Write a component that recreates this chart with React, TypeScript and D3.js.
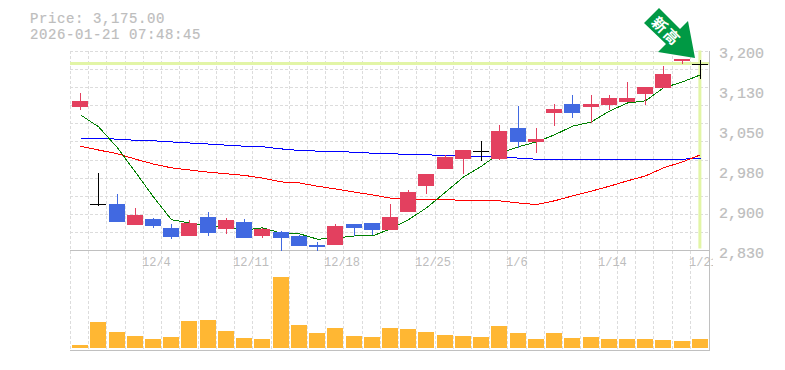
import React from "react";
import * as d3 from "d3";

const W = 785, H = 370;
const dates = ["12/4", "12/11", "12/18", "12/25", "1/6", "1/14", "1/21"];
const dateIdx = [4, 9, 14, 19, 24, 29, 34];
const priceTicks = ["3,200", "3,130", "3,050", "2,980", "2,900", "2,830"];

const opens = [3094.5,2915,2915,2876,2887.4,2870.7,2856,2891,2868.9,2881.8,2856,2863,2856,2839,2839,2878,2880,2867,2900,2948.4,2979.9,2998.4,3013.7,2998.4,3055.7,3029.8,3083.5,3100,3094.5,3098.3,3103.8,3118.6,3129.7,3179.7,3175];
const closes = [3105.6,2915,2881.8,2894.8,2874.4,2854,2880,2861.5,2885.5,2852,2868.9,2852,2837.4,2835.6,2874.4,2870.7,2867,2891,2937,2970.6,3001.5,3015,3013.7,3050,3029.8,3035,3090.9,3083.5,3100,3111,3111,3131.5,3155.6,3183.4,3175];
const highs = [3120.5,2972.5,2933.6,2908,2889,2878,2885.5,2900,2889,2887.4,2870.7,2865,2857.7,2844.8,2878,2878,2880,2915,2941,2970.6,3005.7,3015,3031.6,3061,3096.4,3055.7,3100,3116.8,3116.8,3116.8,3140.8,3131.5,3170.4,3183.4,3181.5];
const lows = [3089,2912,2881.8,2876,2870.7,2850.4,2856,2856,2859.6,2852,2852,2828.7,2837.4,2828.7,2839,2856,2857.7,2867,2900,2933.6,2979.9,2970.6,2994.6,2996.5,3018.7,3009.5,3059.4,3074,3065,3089,3103.8,3098.3,3129.7,3174,3146.4];
const ma5 = [3080,3058,3019,2974,2928,2886,2880,2874,2873,2867,2871,2861,2860,2850,2852,2856,2856,2869,2886,2908,2937,2965,2985,3009,3021,3030,3043,3059,3067,3087,3102,3106,3130,3141,3154];
const ma25 = [3022,3015,3008,2998,2989,2982,2978,2974,2971,2968,2963,2956,2954,2948,2943,2937,2932,2926,2924,2924,2923,2922,2922,2921,2917,2914,2921,2930,2939,2948,2958,2967,2982,2993,3006];
const ma75 = [3037,3037,3035,3033,3032,3030,3028,3026,3024,3022,3021,3017,3014,3013,3012,3011,3009,3008,3007,3006,3005,3004,3003,3002,3000,2998,2998,2998,2998,2998,2998,2998,2998,2998,3000];
const volumes = [300,2600,1600,1200,900,1100,2700,2800,1700,1000,900,7100,2300,1500,2000,1200,1100,2000,1900,1600,1300,1200,1100,2200,1500,900,1500,1000,1100,900,900,900,800,700,900];
const lastPrice = 3175;
const priceLabel = "Price: 3,175.00";
const timeLabel = "2026-01-21 07:48:45";
const badge = "新高";

const L = 71, R = 709, PT = 50.5, PB = 250.5, VB = 350.5, VBase = 348;
const x = d3.scaleBand<number>().domain(d3.range(opens.length)).range([L, R]);
const cx = (i: number) => (x(i) as number) + x.bandwidth() / 2;
const y = d3.scaleLinear().domain([2830, 3200]).range([PB - 0.5, PT - 0.5]);
const v = d3.scaleLinear().domain([0, 7100]).range([VBase, VBase - 71]);
const line = (s: number[]) =>
  d3.line<number>().x((_, i) => Math.round(cx(i)) + 0.5).y((d) => y(d)).curve(d3.curveLinear)(s) as string;

const GRID = "#dcdcdc", AXIS = "#c0c0c0", TEXT = "#bdbdbd", UP = "#e3405f", DOWN = "#4169e1", HL = "#e2f5a6";
const mono = "'Liberation Mono', monospace";

export default function App() {
  const gridX = d3.range(opens.length).map((i) => Math.round(x(i) as number) - 0.5);
  const gridY = d3.range(12).map((k) => Math.round(PT + (k * (PB - PT)) / 11) + 0.5);
  return (
    <svg width={W} height={H} style={{ position: "absolute", left: 0, top: 0, background: "#fff" }}>
      <defs>
        <clipPath id="labels"><rect x={0} y={0} width={713} height={H} /></clipPath>
      </defs>
      <text x={30} y={22.5} fontFamily={mono} fontSize={14} letterSpacing={0.6} fill={TEXT} stroke={TEXT} strokeWidth={0.2}>{priceLabel}</text>
      <text x={30} y={38.5} fontFamily={mono} fontSize={14} letterSpacing={0.6} fill={TEXT} stroke={TEXT} strokeWidth={0.2}>{timeLabel}</text>

      {gridY.slice(0, -1).map((g) => (
        <line key={g} x1={L - 1} x2={R} y1={g - 0.5} y2={g - 0.5} stroke={GRID} strokeDasharray="3 2" shapeRendering="crispEdges" />
      ))}
      {gridX.map((g) => (
        <line key={g} x1={g} x2={g} y1={PT} y2={VB} stroke={GRID} strokeDasharray="3 2" shapeRendering="crispEdges" />
      ))}

      <line x1={L - 1} x2={R + 1} y1={y(lastPrice)} y2={y(lastPrice)} stroke={HL} strokeWidth={3} />
      <line x1={cx(34)} x2={cx(34)} y1={PT} y2={PB - 2} stroke={HL} strokeWidth={3} />

      <line x1={R + 0.5} x2={R + 0.5} y1={PT} y2={VB} stroke={AXIS} shapeRendering="crispEdges" />
      <line x1={L - 1} x2={R + 1} y1={PB} y2={PB} stroke={AXIS} shapeRendering="crispEdges" />
      <line x1={L - 1} x2={R + 1} y1={VB} y2={VB} stroke={AXIS} shapeRendering="crispEdges" />

      {priceTicks.map((t, k) => (
        <text key={t} x={719} y={58 + k * 40} fontFamily={mono} fontSize={15} fill={TEXT} stroke={TEXT} strokeWidth={0.2}>{t}</text>
      ))}
      <g clipPath="url(#labels)">
        {dates.map((d, k) => (
          <text key={d} x={Math.round(x(dateIdx[k]) as number) - 2} y={266} fontFamily={mono} fontSize={12} fill={TEXT}>{d}</text>
        ))}
      </g>

      {volumes.map((d, i) => (
        <rect key={i} x={Math.round(cx(i)) - 8} width={16} y={v(d)} height={VBase - v(d)} fill="#ffb733" />
      ))}

      <path d={line(ma75)} fill="none" stroke="#0000ff" shapeRendering="crispEdges" />
      <path d={line(ma25)} fill="none" stroke="#ff0000" shapeRendering="crispEdges" />
      <path d={line(ma5)} fill="none" stroke="#008000" shapeRendering="crispEdges" />

      {opens.map((o, i) => {
        const c = closes[i];
        const px = Math.round(cx(i));
        const col = c === o ? "#000" : c > o ? UP : DOWN;
        return (
          <g key={i} shapeRendering="crispEdges">
            <rect x={px} width={1} y={y(highs[i])} height={y(lows[i]) - y(highs[i])} fill={col} />
            {c === o ? (
              <rect x={px - 8} width={16} y={Math.round(y(c))} height={1} fill={col} />
            ) : (
              <rect x={px - 8} width={16} y={y(Math.max(o, c))} height={Math.abs(y(o) - y(c))} fill={col} />
            )}
          </g>
        );
      })}

      <polygon points="659,8 644,23 666,44 658,52 695,58 688,21 680,29" fill="#009944" />
      <text transform="translate(666.7,31) rotate(45)" textAnchor="middle" y={6} fontFamily="'Noto Sans CJK JP'" fontWeight={700} fontSize={15} letterSpacing={2} fill="#fff">{badge}</text>
    </svg>
  );
}
